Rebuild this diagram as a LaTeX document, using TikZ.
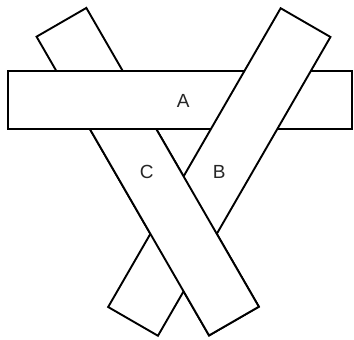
\documentclass[tikz,border=0pt]{standalone}
\usepackage{fontspec}
\setmainfont{Liberation Sans}
\begin{document}
\begin{tikzpicture}[x=1pt,y=1pt,
  bar/.style={draw=black, fill=white, line width=1.9pt, line join=miter, inner sep=0pt, minimum width=345pt, minimum height=57.5pt},
  lbl/.style={font=\fontsize{19}{22}\selectfont, text=black!85, inner sep=0pt}]
\useasboundingbox (0,0) rectangle (354,340);
% C (under A)
\node[bar, rotate=-60] (C) at (147.7,168.3) {};
% A
\node[bar, minimum width=344pt] (A) at (180,239.8) {};
% B over A
\node[bar, rotate=60] (B) at (219.3,168) {};
% C over B below A
\begin{scope}
  \clip (0,0) rectangle (354,209.3);
  \node[bar, rotate=-60] (Cfront) at (147.7,168.3) {};
\end{scope}
\node[lbl] (la) at (183.3,239.3) {A};
\node[lbl] (lb) at (219.2,168.3) {B};
\node[lbl] (lc) at (146.7,168.3) {C};
\end{tikzpicture}
\end{document}
